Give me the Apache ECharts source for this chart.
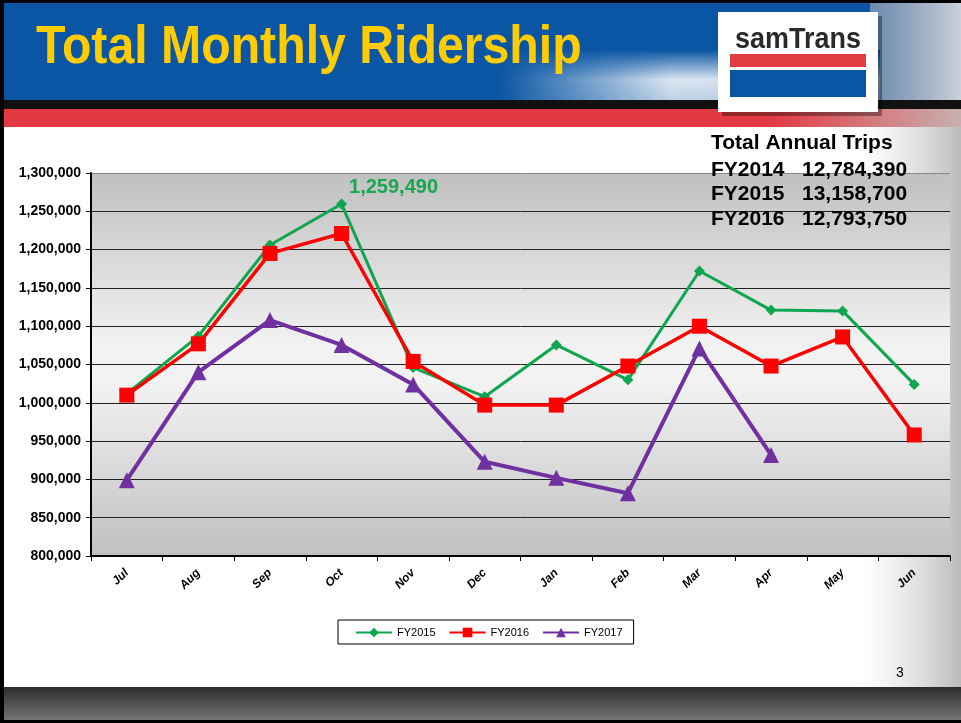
<!DOCTYPE html>
<html>
<head>
<meta charset="utf-8">
<script src="https://cdn.jsdelivr.net/npm/echarts@6/dist/echarts.min.js"></script>
<style>
  html, body { margin: 0; padding: 0; background: #fff; }
  #chart { width: 961px; height: 723px; }
</style>
</head>
<body>
<div id="chart"></div>
<script>
// data
const months = ['Jul', 'Aug', 'Sep', 'Oct', 'Nov', 'Dec', 'Jan', 'Feb', 'Mar', 'Apr', 'May', 'Jun'];
const fy2015 = [1012000, 1087000, 1206000, 1259490, 1046000, 1008000, 1075500, 1030000, 1172000, 1121000, 1120000, 1024000];
const fy2016 = [1010000, 1077000, 1195000, 1221000, 1054000, 997000, 997000, 1048000, 1100000, 1048000, 1086000, 958000];
const fy2017 = [899000, 1040000, 1108000, 1075500, 1024000, 923000, 902000, 882000, 1071000, 932000];
const annualLabels = ['FY2014', 'FY2015', 'FY2016'];
const annualTrips = ['12,784,390', '13,158,700', '12,793,750'];

const chart = echarts.init(document.getElementById('chart'));
const fmt = v => v.toLocaleString('en-US');

// only the peak of FY2015 carries a label
const peak = fy2015.indexOf(Math.max(...fy2015));
const green = fy2015.map((v, i) => i === peak ? {
  value: v,
  label: {
    show: true, position: 'right', offset: [-3, -17],
    formatter: p => fmt(p.value),
    color: '#19a84f', fontSize: 20, fontWeight: 'bold', fontFamily: 'Liberation Sans'
  }
} : v);

const txt = (x, y, text, size, extra) => ({
  type: 'text', z: 8, x: x, y: y,
  style: Object.assign({ text: text, fill: '#000', fontFamily: 'Liberation Sans', fontSize: size, fontWeight: 'bold', verticalAlign: 'middle' }, extra || {})
});

// slide decoration
let deco = [
  // header
  { type: 'rect', z: -10, shape: { x: 0, y: 0, width: 961, height: 104 }, style: { fill: '#0b56a4' } },
  // white glow below the title
  { type: 'rect', z: -9, shape: { x: 500, y: 50, width: 380, height: 54 },
    style: { fill: new echarts.graphic.LinearGradient(0, 0, 1, 0, [
      { offset: 0, color: 'rgba(255,255,255,0)' },
      { offset: 0.45, color: 'rgba(255,255,255,0.95)' },
      { offset: 1, color: 'rgba(235,238,245,0.95)' }]) } },
  { type: 'rect', z: -8, shape: { x: 500, y: 50, width: 380, height: 54 },
    style: { fill: new echarts.graphic.LinearGradient(0, 0, 0, 1, [
      { offset: 0, color: 'rgba(11,86,164,1)' },
      { offset: 0.55, color: 'rgba(11,86,164,0.1)' },
      { offset: 1, color: 'rgba(11,86,164,0.25)' }]) } },
  { type: 'rect', z: -9, shape: { x: 870, y: 0, width: 91, height: 104 },
    style: { fill: new echarts.graphic.LinearGradient(0, 0, 1, 0, [
      { offset: 0, color: 'rgba(150,160,180,0.7)' },
      { offset: 1, color: 'rgba(215,215,220,0.95)' }]) } },
  { type: 'rect', z: -7, shape: { x: 0, y: 100, width: 961, height: 9 }, style: { fill: '#111' } },
  { type: 'rect', z: -7, shape: { x: 0, y: 109, width: 961, height: 18 },
    style: { fill: new echarts.graphic.LinearGradient(0, 0, 1, 0, [
      { offset: 0, color: '#e23a42' },
      { offset: 0.8, color: '#e23a42' },
      { offset: 1, color: '#c8b0b0' }]) } },
  // right side faded photo
  { type: 'rect', z: -10, shape: { x: 860, y: 127, width: 101, height: 560 },
    style: { fill: new echarts.graphic.LinearGradient(0, 0, 1, 0, [
      { offset: 0, color: 'rgba(215,215,215,0)' },
      { offset: 1, color: 'rgba(175,175,175,0.85)' }]) } },
  // footer
  { type: 'rect', z: -10, shape: { x: 0, y: 687, width: 961, height: 36 },
    style: { fill: new echarts.graphic.LinearGradient(0, 0, 0, 1, [
      { offset: 0, color: '#2c2c2c' },
      { offset: 1, color: '#7a7a7a' }]) } },
  { type: 'rect', z: -6, shape: { x: 0, y: 720, width: 961, height: 3 }, style: { fill: '#000' } },
  { type: 'rect', z: -6, shape: { x: 0, y: 0, width: 4, height: 723 }, style: { fill: '#000' } },
  { type: 'rect', z: -6, shape: { x: 0, y: 0, width: 961, height: 3 }, style: { fill: '#000' } },
  // logo
  { type: 'rect', z: 5, shape: { x: 722, y: 16, width: 160, height: 100 }, style: { fill: 'rgba(0,0,0,0.35)' } },
  { type: 'rect', z: 6, shape: { x: 718, y: 12, width: 160, height: 100 }, style: { fill: '#fff' } },
  Object.assign(txt(798, 40, 'samTrans', 29, { fill: '#2a2a2a', align: 'center' }), { scaleX: 0.93, originX: 0, originY: 0 }),
  { type: 'rect', z: 7, shape: { x: 730, y: 54, width: 136, height: 13 }, style: { fill: '#e03c42' } },
  { type: 'rect', z: 7, shape: { x: 730, y: 70, width: 136, height: 27 }, style: { fill: '#0b56a4' } },
  // title
  Object.assign(txt(36, 48, 'Total Monthly Ridership', 53, { fill: '#ffcc00' }), { scaleX: 0.91, originX: 0, originY: 0 }),
  // annual totals
  txt(711, 143, 'Total Annual Trips', 21),
  // page number
  txt(900, 673, '3', 14, { fontWeight: 'normal', align: 'center' })
];
annualLabels.forEach((lab, i) => {
  deco.push(txt(711, 170 + i * 24.5, lab, 21));
  deco.push(txt(802, 170 + i * 24.5, annualTrips[i], 21));
});

const option = {
  animation: false,
  backgroundColor: '#fff',
  graphic: { elements: deco },
  grid: {
    left: 91, top: 173, right: 11, bottom: 167,
    show: true, borderWidth: 0,
    backgroundColor: new echarts.graphic.LinearGradient(0, 0, 0, 1, [
      { offset: 0, color: '#c0c0c0' },
      { offset: 0.45, color: '#f2f2f2' },
      { offset: 0.55, color: '#f2f2f2' },
      { offset: 1, color: '#c0c0c0' }])
  },
  legend: {
    left: 338, top: 620,
    padding: [7, 11, 6, 17],
    itemGap: 13, itemWidth: 36, itemHeight: 12,
    borderColor: '#000', borderWidth: 1, backgroundColor: '#fff',
    textStyle: { fontFamily: 'Liberation Sans', fontSize: 11, color: '#000' },
    data: ['FY2015', 'FY2016', 'FY2017']
  },
  xAxis: {
    type: 'category',
    data: months,
    boundaryGap: true,
    axisLine: { lineStyle: { color: '#000', width: 2 } },
    axisTick: { show: true, length: 5, lineStyle: { color: '#000' } },
    axisLabel: {
      rotate: 45, margin: 15, color: '#000',
      fontFamily: 'Liberation Sans', fontSize: 12, fontWeight: 'bold', fontStyle: 'italic'
    },
    splitLine: { show: false }
  },
  yAxis: {
    type: 'value',
    min: 800000, max: 1300000, interval: 50000,
    axisLine: { show: true, lineStyle: { color: '#000', width: 2 } },
    axisTick: { show: true, length: 5, lineStyle: { color: '#000' } },
    axisLabel: {
      margin: 10, color: '#000', formatter: fmt,
      fontFamily: 'Liberation Sans', fontSize: 14, fontWeight: 'bold'
    },
    splitLine: { show: true, lineStyle: { color: ['#000', '#222', '#222', '#222', '#222', '#222', '#222', '#222', '#222', '#222', '#888'], width: 1 } }
  },
  series: [
    {
      name: 'FY2015', type: 'line', data: green,
      symbol: 'diamond', symbolSize: 11,
      color: '#0fa64f', lineStyle: { width: 3, color: '#0fa64f' }, itemStyle: { color: '#0fa64f' }
    },
    {
      name: 'FY2016', type: 'line', data: fy2016,
      symbol: 'rect', symbolSize: 15,
      color: '#ff0000', lineStyle: { width: 3.5, color: '#ff0000' }, itemStyle: { color: '#ff0000' }
    },
    {
      name: 'FY2017', type: 'line', data: fy2017,
      symbol: 'triangle', symbolSize: 16,
      color: '#7030a0', lineStyle: { width: 4, color: '#7030a0' }, itemStyle: { color: '#7030a0' }
    }
  ]
};
chart.setOption(option);
</script>
</body>
</html>
